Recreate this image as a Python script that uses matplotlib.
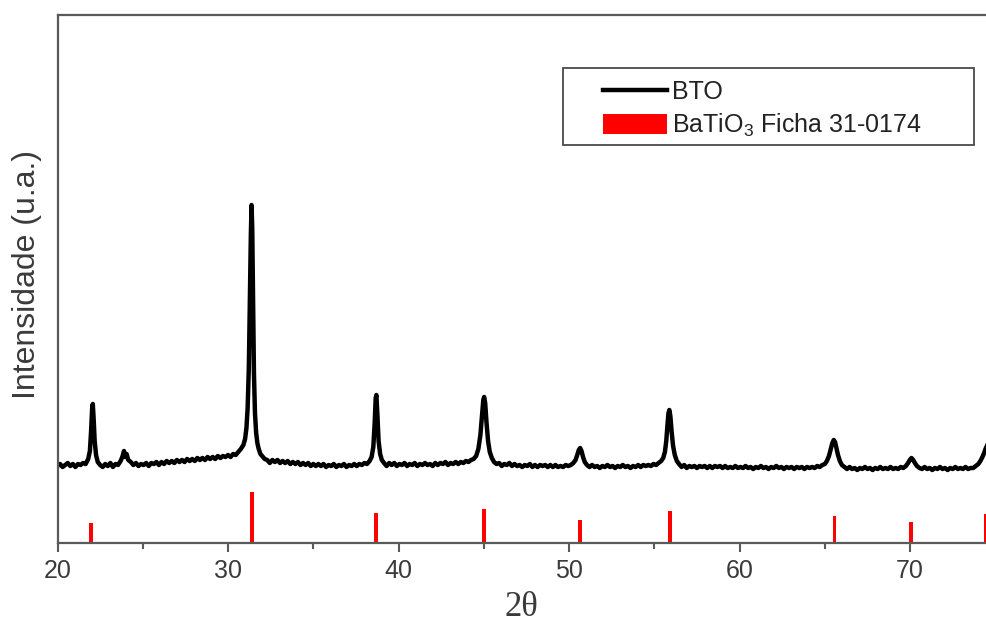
import matplotlib
matplotlib.use("Agg")
import matplotlib.pyplot as plt
from matplotlib.patches import Rectangle

plt.rcParams['font.family'] = ['Liberation Sans', 'DejaVu Sans']
plt.rcParams['mathtext.default'] = 'regular'

# BTO diffractogram, (2theta, intensity a.u.)
bto_points = [
    (20.0,77),(20.15,79),(20.3,76),(20.45,78),(20.6,80),(20.75,77),(20.9,79),(21.05,76),(21.2,79),(21.35,78),(21.5,80),(21.65,79),(21.8,84),
    (21.9,92),(21.97,112),(22.03,134),(22.07,139),(22.12,124),(22.18,102),(22.26,88),(22.36,81),(22.5,78),
    (22.65,76),(22.8,79),(22.95,77),(23.1,80),(23.25,76),(23.4,79),(23.55,78),(23.7,82),(23.8,86),(23.9,92),(23.97,86),(24.05,89),(24.15,83),(24.3,81),(24.45,78),(24.6,80),(24.75,77),(24.9,79),(25.05,78),(25.2,80),(25.35,77),(25.5,80),(25.65,79),(25.8,81),(25.95,78),(26.1,81),(26.25,79),(26.4,82),(26.55,80),(26.7,82),(26.85,80),(27.0,83),(27.15,81),(27.3,83),(27.45,81),(27.6,84),(27.75,82),(27.9,84),(28.05,82),(28.2,85),(28.35,83),(28.5,85),(28.65,83),(28.8,86),(28.95,84),(29.1,86),(29.25,84),(29.4,87),(29.55,85),(29.7,87),(29.85,86),(30.0,88),(30.15,86),(30.3,89),(30.45,88),(30.6,91),(30.75,94),(30.9,98),
    (31.0,104),(31.08,115),(31.15,135),(31.22,175),(31.28,240),(31.34,310),(31.38,338),(31.42,315),(31.47,240),(31.52,170),(31.58,130),(31.65,110),(31.72,100),(31.8,94),(31.9,89),(32.0,87),(32.15,84),(32.3,83),
    (32.45,80),(32.6,83),(32.75,81),(32.9,83),(33.05,80),(33.2,82),(33.35,80),(33.5,82),(33.65,79),(33.8,81),(33.95,79),(34.1,81),(34.25,78),(34.4,80),(34.55,78),(34.7,80),(34.85,77),(35.0,79),(35.15,77),(35.3,79),(35.45,77),(35.6,79),(35.75,76),(35.9,78),(36.05,77),(36.2,79),(36.35,76),(36.5,78),(36.65,77),(36.8,79),(36.95,76),(37.1,78),(37.25,77),(37.4,79),(37.55,77),(37.7,79),(37.85,78),(38.0,80),(38.15,79),(38.3,82),
    (38.42,86),(38.52,96),(38.6,120),(38.66,145),(38.7,148),(38.76,128),(38.83,102),(38.92,89),(39.02,83),(39.15,80),
    (39.3,77),(39.45,80),(39.6,78),(39.75,80),(39.9,77),(40.05,79),(40.2,78),(40.35,80),(40.5,77),(40.65,79),(40.8,78),(40.95,80),(41.1,77),(41.25,79),(41.4,78),(41.55,80),(41.7,78),(41.85,79),(42.0,77),(42.15,80),(42.3,78),(42.45,80),(42.6,79),(42.75,81),(42.9,78),(43.05,80),(43.2,79),(43.35,81),(43.5,79),(43.65,81),(43.8,80),(43.95,82),(44.1,81),(44.25,83),(44.4,84),
    (44.55,87),(44.68,94),(44.8,108),(44.9,128),(44.97,143),(45.02,146),(45.08,140),(45.16,120),(45.25,102),(45.35,91),(45.47,85),(45.6,81),
    (45.75,79),(45.9,80),(46.05,77),(46.2,79),(46.35,78),(46.5,80),(46.65,77),(46.8,79),(46.95,77),(47.1,78),(47.25,76),(47.4,78),(47.55,77),(47.7,79),(47.85,76),(48.0,78),(48.15,76),(48.3,78),(48.45,77),(48.6,78),(48.75,76),(48.9,78),(49.05,76),(49.2,78),(49.35,76),(49.5,77),(49.65,76),(49.8,78),(49.95,77),(50.1,78),(50.25,80),
    (50.38,83),(50.48,88),(50.57,93),(50.65,95),(50.73,92),(50.82,86),(50.92,81),(51.05,78),
    (51.2,76),(51.35,78),(51.5,76),(51.65,77),(51.8,75),(51.95,77),(52.1,76),(52.25,78),(52.4,76),(52.55,77),(52.7,75),(52.85,77),(53.0,76),(53.15,78),(53.3,76),(53.45,77),(53.6,75),(53.75,77),(53.9,76),(54.05,78),(54.2,76),(54.35,78),(54.5,77),(54.65,78),(54.8,77),(54.95,79),(55.1,78),(55.25,80),(55.4,82),
    (55.52,85),(55.62,91),(55.7,102),(55.77,118),(55.83,130),(55.88,133),(55.94,127),(56.01,112),(56.1,97),(56.2,88),(56.32,82),(56.45,79),
    (56.6,76),(56.75,78),(56.9,75),(57.05,77),(57.2,76),(57.35,77),(57.5,75),(57.65,77),(57.8,76),(57.95,77),(58.1,75),(58.25,77),(58.4,75),(58.55,77),(58.7,76),(58.85,77),(59.0,75),(59.15,77),(59.3,75),(59.45,76),(59.6,75),(59.75,77),(59.9,75),(60.05,76),(60.2,75),(60.35,77),(60.5,75),(60.65,76),(60.8,74),(60.95,76),(61.1,75),(61.25,77),(61.4,75),(61.55,76),(61.7,74),(61.85,76),(62.0,75),(62.15,77),(62.3,75),(62.45,76),(62.6,74),(62.75,76),(62.9,75),(63.05,76),(63.2,74),(63.35,76),(63.5,75),(63.65,76),(63.8,74),(63.95,76),(64.1,75),(64.25,76),(64.4,75),(64.55,77),(64.7,76),(64.85,78),(65.0,79),
    (65.12,82),(65.24,87),(65.35,94),(65.44,100),(65.52,103),(65.6,101),(65.68,95),(65.77,88),(65.88,82),(66.0,78),(66.15,76),
    (66.3,74),(66.45,76),(66.6,74),(66.75,75),(66.9,73),(67.05,75),(67.2,74),(67.35,76),(67.5,74),(67.65,75),(67.8,73),(67.95,75),(68.1,74),(68.25,76),(68.4,74),(68.55,75),(68.7,74),(68.85,76),(69.0,74),(69.15,75),(69.3,74),(69.45,76),(69.6,75),(69.75,77),
    (69.88,80),(69.98,83),(70.08,85),(70.18,83),(70.28,80),(70.4,77),(70.55,75),
    (70.7,74),(70.85,76),(71.0,74),(71.15,75),(71.3,73),(71.45,75),(71.6,74),(71.75,76),(71.9,74),(72.05,75),(72.2,73),(72.35,75),(72.5,74),(72.65,76),(72.8,74),(72.95,75),(73.1,74),(73.25,76),(73.4,74),(73.55,75),(73.7,75),(73.85,77),(74.0,79),(74.12,82),(74.24,86),(74.34,90),(74.42,94),(74.5,97),
]
bto_theta = [p[0] for p in bto_points]
bto_intensity = [p[1] for p in bto_points]

# Reference card BaTiO3 31-0174
ref_theta = [21.96, 31.39, 38.68, 45.01, 50.65, 55.94, 65.56, 70.06, 74.45]
ref_intensity = [20, 51, 30, 34, 23, 32, 27, 21, 29]

x_ticks = [20, 30, 40, 50, 60, 70]
label_bto = "BTO"
label_ref = "BaTiO$_3$ Ficha 31-0174"

W, H = 986, 625
fig = plt.figure(figsize=(W / 100, H / 100), dpi=100)
ax = fig.add_axes([57.5 / W, 1 - 543 / H, 1 - 57.5 / W, (543 - 15) / H])

ax.plot(bto_theta, bto_intensity, color='black', lw=3.2, label=label_bto, solid_joinstyle='round')
ax.bar(ref_theta, ref_intensity, width=0.22, color='#ff0000', label=label_ref)

ax.set_xlim(20, 74.45)
ax.set_ylim(0, 528)
ax.set_xticks(x_ticks)
ax.set_xticks([25, 35, 45, 55, 65], minor=True)
ax.set_yticks([])
for s in ['left', 'bottom', 'top']:
    ax.spines[s].set_color('#5a5a5a')
    ax.spines[s].set_linewidth(1.6)
ax.spines['right'].set_visible(False)
ax.tick_params(axis='x', which='major', direction='out', length=6.5, width=1.5,
               color='#5a5a5a', labelsize=18, labelcolor='#3a3a3a', pad=5)
ax.tick_params(axis='x', which='minor', direction='out', length=4.5, width=1.5, color='#5a5a5a')

ax.set_ylabel("Intensidade (u.a.)", fontsize=23, color='#3a3a3a')
ax.yaxis.set_label_coords(-0.0166, 0.508)
ax.set_xlabel("2θ", fontsize=25, color='#3a3a3a', family=['Liberation Serif', 'DejaVu Serif'], labelpad=6)

# legend frame
fig.add_artist(Rectangle((563 / W, 1 - 145 / H), 411 / W, 77 / H, transform=fig.transFigure,
                         fill=False, edgecolor='#4a4a4a', lw=1.3))
leg = ax.legend(loc='upper left', bbox_to_anchor=(603 / W, 1 - 80 / H), bbox_transform=fig.transFigure,
                frameon=False, fontsize=18, handlelength=2.55, handleheight=0.85, handletextpad=0.2,
                labelspacing=0.3, borderpad=0.0, borderaxespad=0.0)
for t in leg.get_texts():
    t.set_color('#222222')

fig.savefig("out.png", dpi=100)
